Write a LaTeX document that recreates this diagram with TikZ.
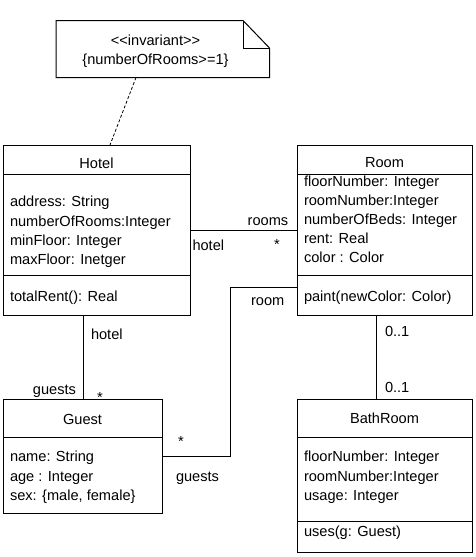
\documentclass[tikz,border=0pt]{standalone}
\usepackage{fontspec}
\setmainfont{Liberation Sans}
\usetikzlibrary{calc}
\tikzset{
  umlbox/.style={draw, line width=1pt, rectangle, inner sep=0pt, outer sep=0pt, anchor=north west},
  notebox/.style={rectangle, inner sep=0pt, outer sep=0pt, anchor=north west},
  txt/.style={font=\fontsize{14.6}{17}\selectfont, inner sep=0pt, outer sep=0pt},
  lw/.style={txt, anchor=base west},
  le/.style={txt, anchor=base east},
  lc/.style={txt, anchor=base},
  conn/.style={line width=1pt},
  noteline/.style={line width=0.8pt, dash pattern=on 3pt off 2pt},
}
\begin{document}
\begin{tikzpicture}[x=1pt,y=-1pt]
\useasboundingbox (0,0) rectangle (476,557);

% note
\node[notebox, minimum width=213.5pt, minimum height=57pt] (note) at (56,20.5) {};
\draw[conn] (note.south west) -- (note.north west) -- ($(note.north east)+(-26.5,0)$)
  -- ($(note.north east)+(0,27.5)$) -- (note.south east) -- cycle;
\draw[conn] ($(note.north east)+(-26.5,0)$) -- ++(0,27.5) -- ++(26.5,0);
\node[lc] (inv1) at (155.5,45) {{<}{<}invariant{>}{>}};
\node[lc] (inv2) at (155.5,64.5) {\{numberOfRooms{>}{=}1\}};

% Hotel
\node[umlbox, minimum width=187pt, minimum height=170pt] (hotel) at (3,145) {};
\draw[conn] ($(hotel.north west)+(0,29)$) -- ($(hotel.north east)+(0,29)$);
\draw[conn] ($(hotel.north west)+(0,130.7)$) -- ($(hotel.north east)+(0,130.7)$);
\node[lc] (hotelname) at (96.5,168.3) {Hotel};
\node[lw] (h1) at (10,206.7) {address: String};
\node[lw] (h2) at (10,226) {numberOfRooms:Integer};
\node[lw] (h3) at (10,245) {minFloor: Integer};
\node[lw] (h4) at (10,264) {maxFloor: Inetger};
\node[lw] (h5) at (10,301.7) {totalRent(): Real};

% Room
\node[umlbox, minimum width=175pt, minimum height=170pt] (room) at (297,145) {};
\draw[conn] ($(room.north west)+(0,29)$) -- ($(room.north east)+(0,29)$);
\draw[conn] ($(room.north west)+(0,130.7)$) -- ($(room.north east)+(0,130.7)$);
\node[lc] (roomname) at (384.5,167.7) {Room};
\node[lw] (r1) at (304,186) {floorNumber: Integer};
\node[lw] (r2) at (304,205) {roomNumber:Integer};
\node[lw] (r3) at (304,224.3) {numberOfBeds: Integer};
\node[lw] (r4) at (304,243.3) {rent: Real};
\node[lw] (r5) at (304,262.7) {color : Color};
\node[lw] (r6) at (304,301.7) {paint(newColor: Color)};

% Guest
\node[umlbox, minimum width=159.5pt, minimum height=113.5pt] (guest) at (3,399.5) {};
\draw[conn] ($(guest.north west)+(0,37.5)$) -- ($(guest.north east)+(0,37.5)$);
\node[lc] (guestname) at (82.5,424) {Guest};
\node[lw] (g1) at (10,461.7) {name: String};
\node[lw] (g2) at (10,481) {age : Integer};
\node[lw] (g3) at (10,500) {sex: \{male, female\}};

% BathRoom
\node[umlbox, minimum width=175pt, minimum height=152.5pt] (bath) at (297,399.5) {};
\draw[conn] ($(bath.north west)+(0,38)$) -- ($(bath.north east)+(0,38)$);
\draw[conn] ($(bath.north west)+(0,122.2)$) -- ($(bath.north east)+(0,122.2)$);
\node[lc] (bathname) at (384.5,423.3) {BathRoom};
\node[lw] (b1) at (304,461.7) {floorNumber: Integer};
\node[lw] (b2) at (304,481) {roomNumber:Integer};
\node[lw] (b3) at (304,500) {usage: Integer};
\node[lw] (b4) at (304,536.7) {uses(g: Guest)};

% connectors
\draw[noteline] ($(note.south west)+(80,0)$) -- ($(hotel.north west)+(107,0)$);

\coordinate (hry) at (0,230.7);
\draw[conn] (hotel.east |- hry) -- (room.west |- hry);
\node[le] (lrooms) at (288.3,225) {rooms};
\node[lw] (lhotel1) at (192.5,250.5) {hotel};
\node[lc] (lstar1) at (277,249) {*};

\coordinate (hgx) at (83,0);
\draw[conn] (hotel.south -| hgx) -- (guest.north -| hgx);
\node[lw] (lhotel2) at (91,339.5) {hotel};
\node[le] (lguests1) at (76,394.5) {guests};
\node[lc] (lstar2) at (100,402) {*};

\coordinate (gbend) at (230,456.7);
\coordinate (rbend) at (230,287.3);
\draw[conn] (guest.east |- gbend) -- (gbend) -- (rbend) -- (room.west |- rbend);
\node[le] (lroom) at (284.3,305) {room};
\node[lc] (lstar3) at (181,446) {*};
\node[lw] (lguests2) at (176,481.7) {guests};

\coordinate (rbx) at (376.7,0);
\draw[conn] (room.south -| rbx) -- (bath.north -| rbx);
\node[lw] (lzo1) at (385,336) {0..1};
\node[lw] (lzo2) at (385,392.7) {0..1};
\end{tikzpicture}
\end{document}
